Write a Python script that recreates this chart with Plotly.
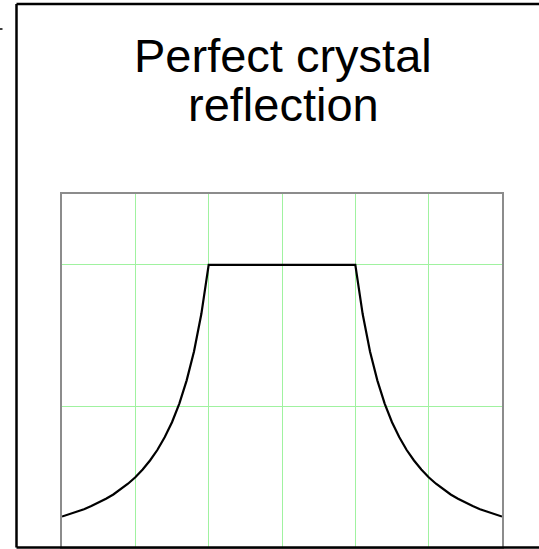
import plotly.graph_objects as go

# Reflectivity profile of a perfect crystal (angle offset in half-widths)
offset = [-3.0, -2.9, -2.8, -2.7, -2.6, -2.5, -2.4, -2.3, -2.2, -2.1, -2.0,
          -1.9, -1.8, -1.7, -1.6, -1.5, -1.4, -1.3, -1.2, -1.1, -1.0,
          0.0,
          1.0, 1.1, 1.2, 1.3, 1.4, 1.5, 1.6, 1.7, 1.8, 1.9, 2.0,
          2.1, 2.2, 2.3, 2.4, 2.5, 2.6, 2.7, 2.8, 2.9, 3.0]
reflectivity = [0.111, 0.119, 0.128, 0.137, 0.148, 0.160, 0.174, 0.189, 0.207, 0.227, 0.250,
                0.277, 0.309, 0.346, 0.391, 0.444, 0.510, 0.592, 0.694, 0.826, 1.000,
                1.000,
                1.000, 0.826, 0.694, 0.592, 0.510, 0.444, 0.391, 0.346, 0.309, 0.277, 0.250,
                0.227, 0.207, 0.189, 0.174, 0.160, 0.148, 0.137, 0.128, 0.119, 0.111]

title_lines = ["Perfect crystal", "reflection"]

W, H = 539, 549
L, R, T, B = 62, 37, 194, 1
pw, ph = W - L - R, H - T - B


def px_x(x):
    return (x - L) / pw


def px_y(y):
    return (H - B - y) / ph


fig = go.Figure()
fig.add_trace(go.Scatter(
    x=offset, y=reflectivity, mode="lines",
    line=dict(color="black", width=2.2),
    hoverinfo="skip", showlegend=False,
))

grid_color = "rgb(160,242,160)"
fig.update_xaxes(range=[-3, 3], dtick=1, tick0=0, showgrid=True,
                 gridcolor=grid_color, gridwidth=1, zeroline=False,
                 showticklabels=False, ticks="", showline=True,
                 linecolor="rgb(140,140,140)", linewidth=1.5, mirror=True)
fig.update_yaxes(range=[0, 1.25], dtick=0.5, tick0=0, showgrid=True,
                 gridcolor=grid_color, gridwidth=1, zeroline=False,
                 showticklabels=False, ticks="", showline=True,
                 linecolor="rgb(140,140,140)", linewidth=1.5, mirror=True)

# Outer frame around the panel (open on the right, running off the page)
frame = dict(color="black", width=2.5)
for (xa, ya, xb, yb) in [(16.5, 4, 545, 4), (16.5, 4, 16.5, 547.5), (16.5, 547.5, 545, 547.5)]:
    fig.add_shape(type="line", xref="paper", yref="paper",
                  x0=px_x(xa), y0=px_y(ya), x1=px_x(xb), y1=px_y(yb), line=frame)
fig.add_shape(type="line", xref="paper", yref="paper",
              x0=px_x(-1), x1=px_x(2.5), y0=px_y(29), y1=px_y(29),
              line=dict(color="black", width=1.5))

for text, yc in zip(title_lines, [55, 105]):
    fig.add_annotation(text=text, xref="paper", yref="paper",
                       x=px_x(283), y=px_y(yc), xanchor="center", yanchor="middle",
                       showarrow=False,
                       font=dict(family="Liberation Sans, Arial, sans-serif",
                                 size=47, color="black"))

fig.update_layout(
    width=W, height=H,
    margin=dict(l=L, r=R, t=T, b=B),
    paper_bgcolor="white", plot_bgcolor="white",
)

fig.write_html("out.html")
